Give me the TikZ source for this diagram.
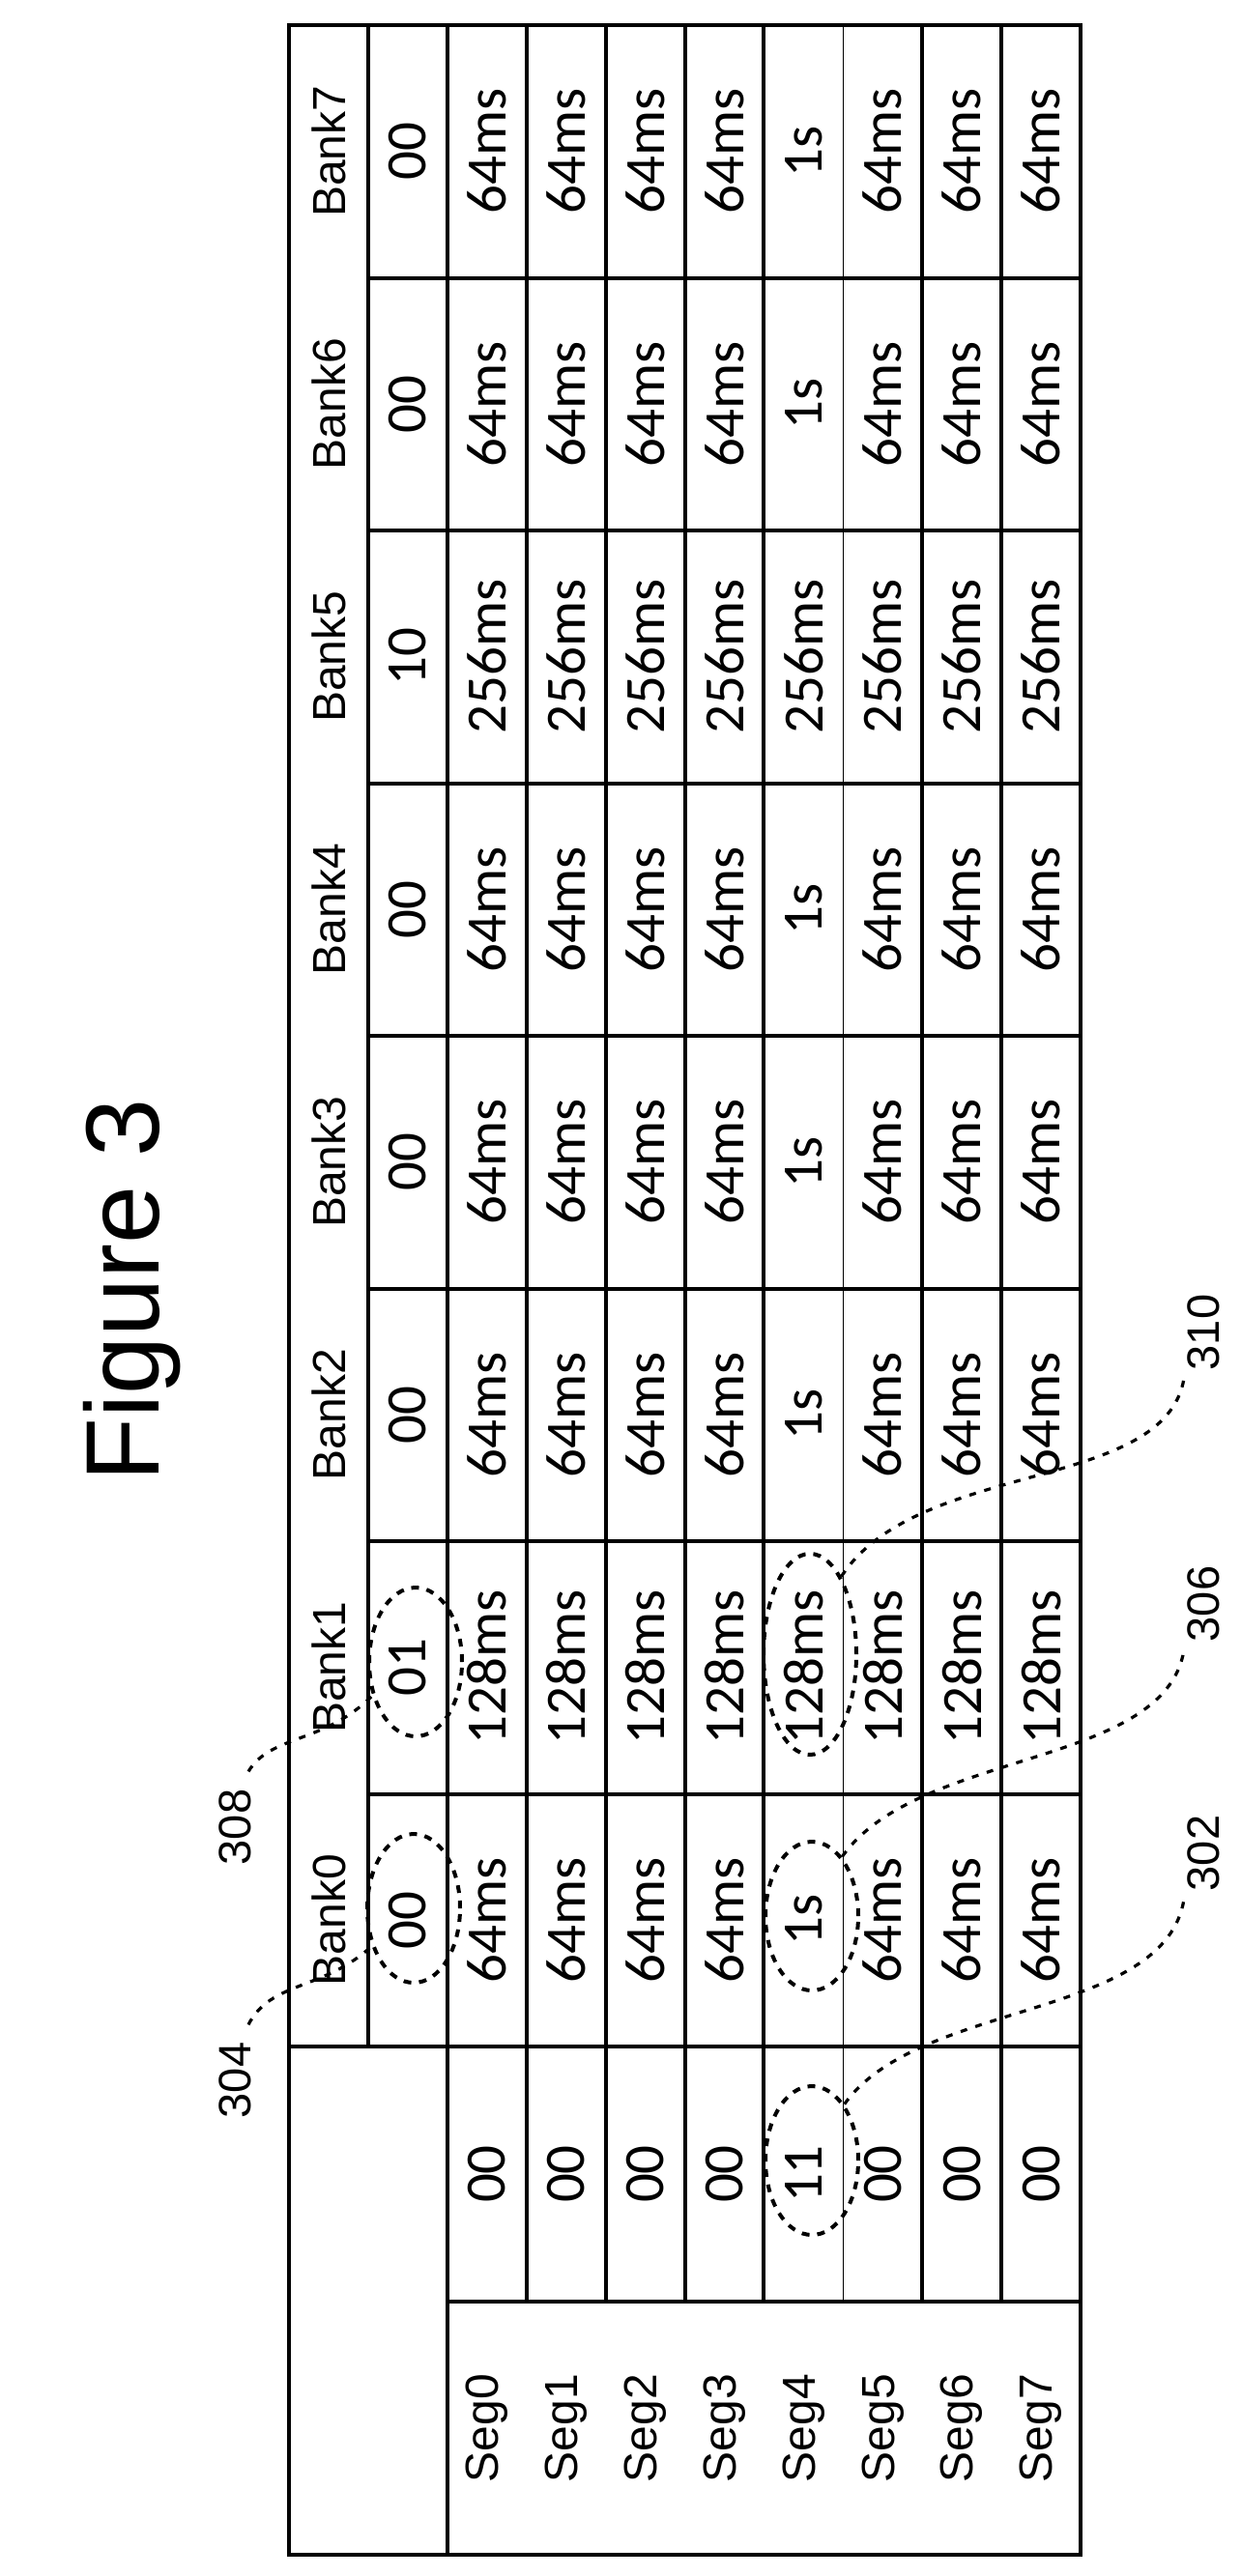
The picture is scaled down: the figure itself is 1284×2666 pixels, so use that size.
\documentclass[tikz,border=0pt]{standalone}
\usepackage{fontspec}
\setmainfont{Liberation Sans}
\newfontfamily\valfont{Carlito}
\usetikzlibrary{shapes.geometric}

\begin{document}
\begin{tikzpicture}[x=0.5pt,y=-0.5pt,
  grid/.style={line width=2pt},
  lbl/.style={rotate=90,inner sep=0pt,font=\fontsize{24}{26}\selectfont},
  val/.style={rotate=90,inner sep=0pt,font=\valfont\fontsize{29.5}{31}\selectfont},
  refnum/.style={rotate=90,inner sep=0pt,font=\fontsize{23.5}{25}\selectfont},
  ring/.style={ellipse,draw,line width=2pt,dash pattern=on 4pt off 4pt,minimum width=48pt,minimum height=77pt,inner sep=0pt},
  leader/.style={line width=1.6pt,dash pattern=on 3.5pt off 4.5pt}]
\useasboundingbox (0,0) rectangle (1284,2666);

% Grid for refresh table
\draw[grid] (299,26) rectangle (1118,2644);
\draw[grid] (380.9,26) -- (380.9,2118);
\draw[grid] (462.8,26) -- (462.8,2644);
\foreach \i in {3,...,9}{
  \pgfmathsetmacro\xl{299+81.9*\i}
  \ifnum\i=7
    \draw[line width=0.8pt] (\xl,26) -- (\xl,2382);
  \else
    \draw[grid] (\xl,26) -- (\xl,2382);
  \fi
}
\foreach \k in {1,...,7}{
  \pgfmathsetmacro\yl{26+261.5*\k}
  \draw[grid] (380.9,\yl) -- (1118,\yl);
}
\draw[grid] (299,2118) -- (1118,2118);
\draw[grid] (462.8,2382) -- (1118,2382);

% Title
\node[rotate=90,inner sep=0pt,font=\fontsize{54}{56}\selectfont] (title) at (137,1335) {Figure 3};

% Banks and values
\foreach \b/\c/\v in {0/00/64ms,1/01/128ms,2/00/64ms,3/00/64ms,4/00/64ms,5/10/256ms,6/00/64ms,7/00/64ms}{
  \pgfmathsetmacro\yc{26+261.5*(7-\b)+130.75}
  \node[lbl] (bank\b) at (340,\yc) {Bank\b};
  \node[val] (code\b) at (421.85,\yc) {\c};
  \foreach \s in {0,...,7}{
    \pgfmathsetmacro\xc{503.75+81.9*\s}
    \def\cellval{\v}
    \ifnum\s=4 \ifnum\b=1 \else\ifnum\b=5 \else\def\cellval{1s}\fi\fi\fi
    \node[val] (cell-\s-\b) at (\xc,\yc) {\cellval};
  }
}

% Segments
\foreach \s/\c in {0/00,1/00,2/00,3/00,4/11,5/00,6/00,7/00}{
  \pgfmathsetmacro\xc{503.75+81.9*\s}
  \node[val] (segcode\s) at (\xc,2250) {\c};
  \node[lbl] (seg\s) at (\xc,2513) {Seg\s};
}

% Highlighted entries
\node[ring] (e01) at (430,1720) {};
\node[ring] (e00) at (428,1975) {};
\node[ring,minimum height=104pt] (e128) at (838,1712) {};
\node[ring] (e1s) at (840,1983) {};
\node[ring] (e11) at (840,2236) {};

% Reference numerals
\node[refnum] (l308) at (243,1891) {308};
\node[refnum] (l304) at (243,2153) {304};
\node[refnum] (l310) at (1245,1379) {310};
\node[refnum] (l306) at (1245,1660) {306};
\node[refnum] (l302) at (1245,1918) {302};

% Leaders
\draw[leader] ([xshift=7pt,yshift=9pt]l308.east) .. controls (280,1795) and (335,1805) .. (e01.218);
\draw[leader] ([xshift=7pt,yshift=9pt]l304.east) .. controls (280,2050) and (335,2060) .. (e00.222);
\draw[leader] (e128.68) .. controls (950,1510) and (1205,1545) .. ([xshift=-10pt,yshift=-4pt]l310.west);
\draw[leader] (e1s.63) .. controls (950,1810) and (1205,1830) .. ([xshift=-10pt,yshift=-4pt]l306.west);
\draw[leader] (e11.60) .. controls (950,2070) and (1205,2090) .. ([xshift=-10pt,yshift=-4pt]l302.west);
\end{tikzpicture}
\end{document}
